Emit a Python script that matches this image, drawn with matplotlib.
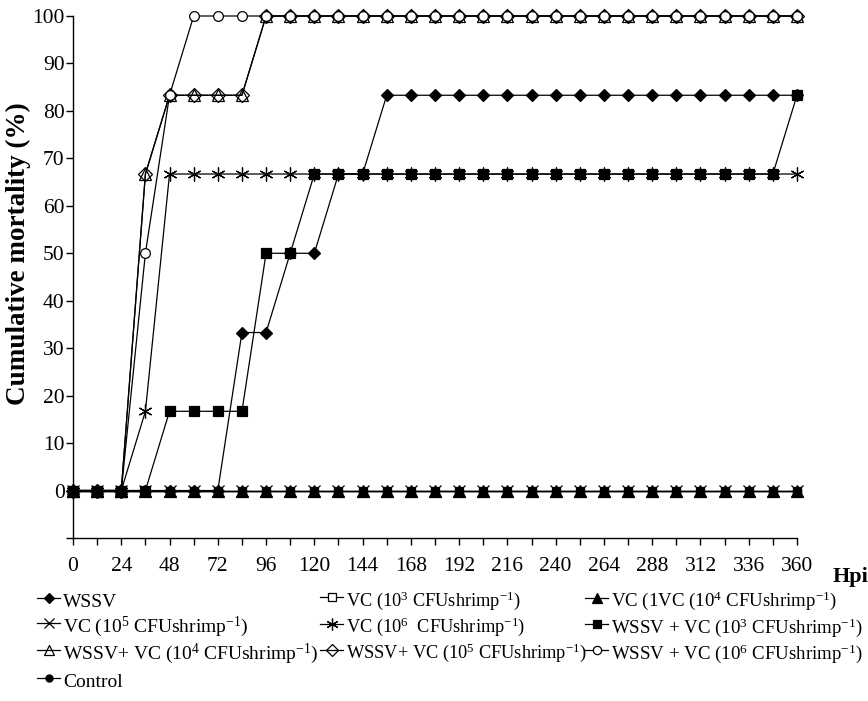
import numpy as np
import matplotlib
matplotlib.use('Agg')
import matplotlib.pyplot as plt

plt.rcParams['font.family'] = ['Liberation Serif', 'DejaVu Serif']
plt.rcParams['mathtext.fontset'] = 'custom'
plt.rcParams['mathtext.rm'] = 'Liberation Serif'
plt.rcParams['mathtext.it'] = 'Liberation Serif:italic'
plt.rcParams['mathtext.bf'] = 'Liberation Serif:bold'

# hours post infection
hours = list(range(0, 361, 12))

wssv = [0, 0, 0, 0, 0, 0, 0, 33.3, 33.3, 50, 50, 66.7, 66.7, 83.3, 83.3, 83.3,
        83.3, 83.3, 83.3, 83.3, 83.3, 83.3, 83.3, 83.3, 83.3, 83.3, 83.3, 83.3,
        83.3, 83.3, 83.3]
vc3 = [0] * 31
vc4 = [0] * 31
vc5 = [0] * 31
vc6 = [0, 0, 0, 16.7, 66.7, 66.7, 66.7, 66.7, 66.7, 66.7, 66.7, 66.7, 66.7,
       66.7, 66.7, 66.7, 66.7, 66.7, 66.7, 66.7, 66.7, 66.7, 66.7, 66.7, 66.7,
       66.7, 66.7, 66.7, 66.7, 66.7, 66.7]
wssv_vc3 = [0, 0, 0, 0, 16.7, 16.7, 16.7, 16.7, 50, 50, 66.7, 66.7, 66.7, 66.7,
            66.7, 66.7, 66.7, 66.7, 66.7, 66.7, 66.7, 66.7, 66.7, 66.7, 66.7,
            66.7, 66.7, 66.7, 66.7, 66.7, 83.3]
wssv_vc4 = [0, 0, 0, 66.7, 83.3, 83.3, 83.3, 83.3, 100, 100, 100, 100, 100, 100,
            100, 100, 100, 100, 100, 100, 100, 100, 100, 100, 100, 100, 100, 100,
            100, 100, 100]
wssv_vc5 = [0, 0, 0, 66.7, 83.3, 83.3, 83.3, 83.3, 100, 100, 100, 100, 100, 100,
            100, 100, 100, 100, 100, 100, 100, 100, 100, 100, 100, 100, 100, 100,
            100, 100, 100]
wssv_vc6 = [0, 0, 0, 50, 83.3, 100, 100, 100, 100, 100, 100, 100, 100, 100, 100,
            100, 100, 100, 100, 100, 100, 100, 100, 100, 100, 100, 100, 100, 100,
            100, 100]
control = [0] * 31

unit = r'CFUshrimp$^{\mathregular{-1}}$)'
lab_wssv = 'WSSV'
lab_vc3 = r'VC (10$^{\mathregular{3}}$ ' + unit
lab_vc4 = r'VC (1VC (10$^{\mathregular{4}}$ ' + unit
lab_vc5 = r'VC (10$^{\mathregular{5}}$ ' + unit
lab_vc6 = r'VC (10$^{\mathregular{6}}$  ' + unit
lab_wv3 = r'WSSV + VC (10$^{\mathregular{3}}$ ' + unit
lab_wv4 = r'WSSV+ VC (10$^{\mathregular{4}}$ ' + unit
lab_wv5 = r'WSSV+ VC (10$^{\mathregular{5}}$ ' + unit
lab_wv6 = r'WSSV + VC (10$^{\mathregular{6}}$ ' + unit
lab_ctrl = 'Control'

fig = plt.figure(figsize=(8.68, 7.01), dpi=100)
ax = fig.add_axes([73 / 868, 1 - 538 / 701, (797 - 73) / 868, (538 - 16) / 701])

kw = dict(color='black', lw=0.9, clip_on=False, mec='black', mew=0.9)
h = {}
h['vc3'], = ax.plot(hours, vc3, marker='s', ms=6, mfc='white', label=lab_vc3, **kw)
h['vc4'], = ax.plot(hours, vc4, marker='^', ms=8, mfc='black', label=lab_vc4, **kw)
h['ctrl'], = ax.plot(hours, control, marker='o', ms=6, mfc='black', label=lab_ctrl, **kw)
h['vc5'], = ax.plot(hours, vc5, marker='x', ms=9, label=lab_vc5, **kw)
h['vc6'], = ax.plot(hours, vc6, marker=(6, 2, 0), ms=10, label=lab_vc6, **kw)
h['wv4'], = ax.plot(hours, wssv_vc4, marker='^', ms=9, mfc='none', label=lab_wv4, **kw)
h['wv5'], = ax.plot(hours, wssv_vc5, marker='D', ms=7, mfc='none', label=lab_wv5, **kw)
h['wv6'], = ax.plot(hours, wssv_vc6, marker='o', ms=7, mfc='white', label=lab_wv6, **kw)
h['wv3'], = ax.plot(hours, wssv_vc3, marker='s', ms=6.5, mfc='black', label=lab_wv3, **kw)
h['wssv'], = ax.plot(hours, wssv, marker='D', ms=6, mfc='black', label=lab_wssv, **kw)

ax.set_xlim(0, 360)
ax.set_ylim(-10, 100)
ax.spines['top'].set_visible(False)
ax.spines['right'].set_visible(False)
ax.spines['left'].set_linewidth(1)
ax.spines['bottom'].set_linewidth(1)

ax.set_xticks(range(0, 361, 12))
ax.set_xticklabels([str(v) if v % 24 == 0 else '' for v in range(0, 361, 12)])
ax.set_yticks(range(-10, 101, 10))
ax.set_yticklabels(['' if v < 0 else str(v) for v in range(-10, 101, 10)])
ax.tick_params(axis='both', direction='out', length=5, width=1, labelsize=15.5)
ax.tick_params(axis='x', pad=9)
ax.tick_params(axis='y', pad=1)

ax.set_ylabel('Cumulative mortality (%)', fontsize=19.5, fontweight='bold')
ax.yaxis.set_label_coords(-0.058, 0.545)
fig.text(851 / 868, 1 - 577 / 701, 'Hpi', fontsize=16, fontweight='bold',
         ha='center', va='center')

# three legend columns, placed one by one, same row pitch (~26.7 px)
columns = [(['wssv', 'vc5', 'wv4', 'ctrl'], 37, 14.0),
           (['vc3', 'vc6', 'wv5'], 320, 13.2),
           (['vc4', 'wv3', 'wv6'], 585, 13.6)]
for keys, xpix, fs in columns:
    fpx = fs * 100 / 72
    fig.legend([h[k] for k in keys], [h[k].get_label() for k in keys],
               loc='upper left', bbox_to_anchor=(xpix / 868, 1 - 589 / 701),
               frameon=False, fontsize=fs, handlelength=1.2 * 14 / fs,
               handletextpad=0.15, handleheight=26.7 / fpx,
               labelspacing=3.0 / fpx, borderpad=0, borderaxespad=0,
               markerscale=0.85)

fig.savefig('out.png', dpi=100)
